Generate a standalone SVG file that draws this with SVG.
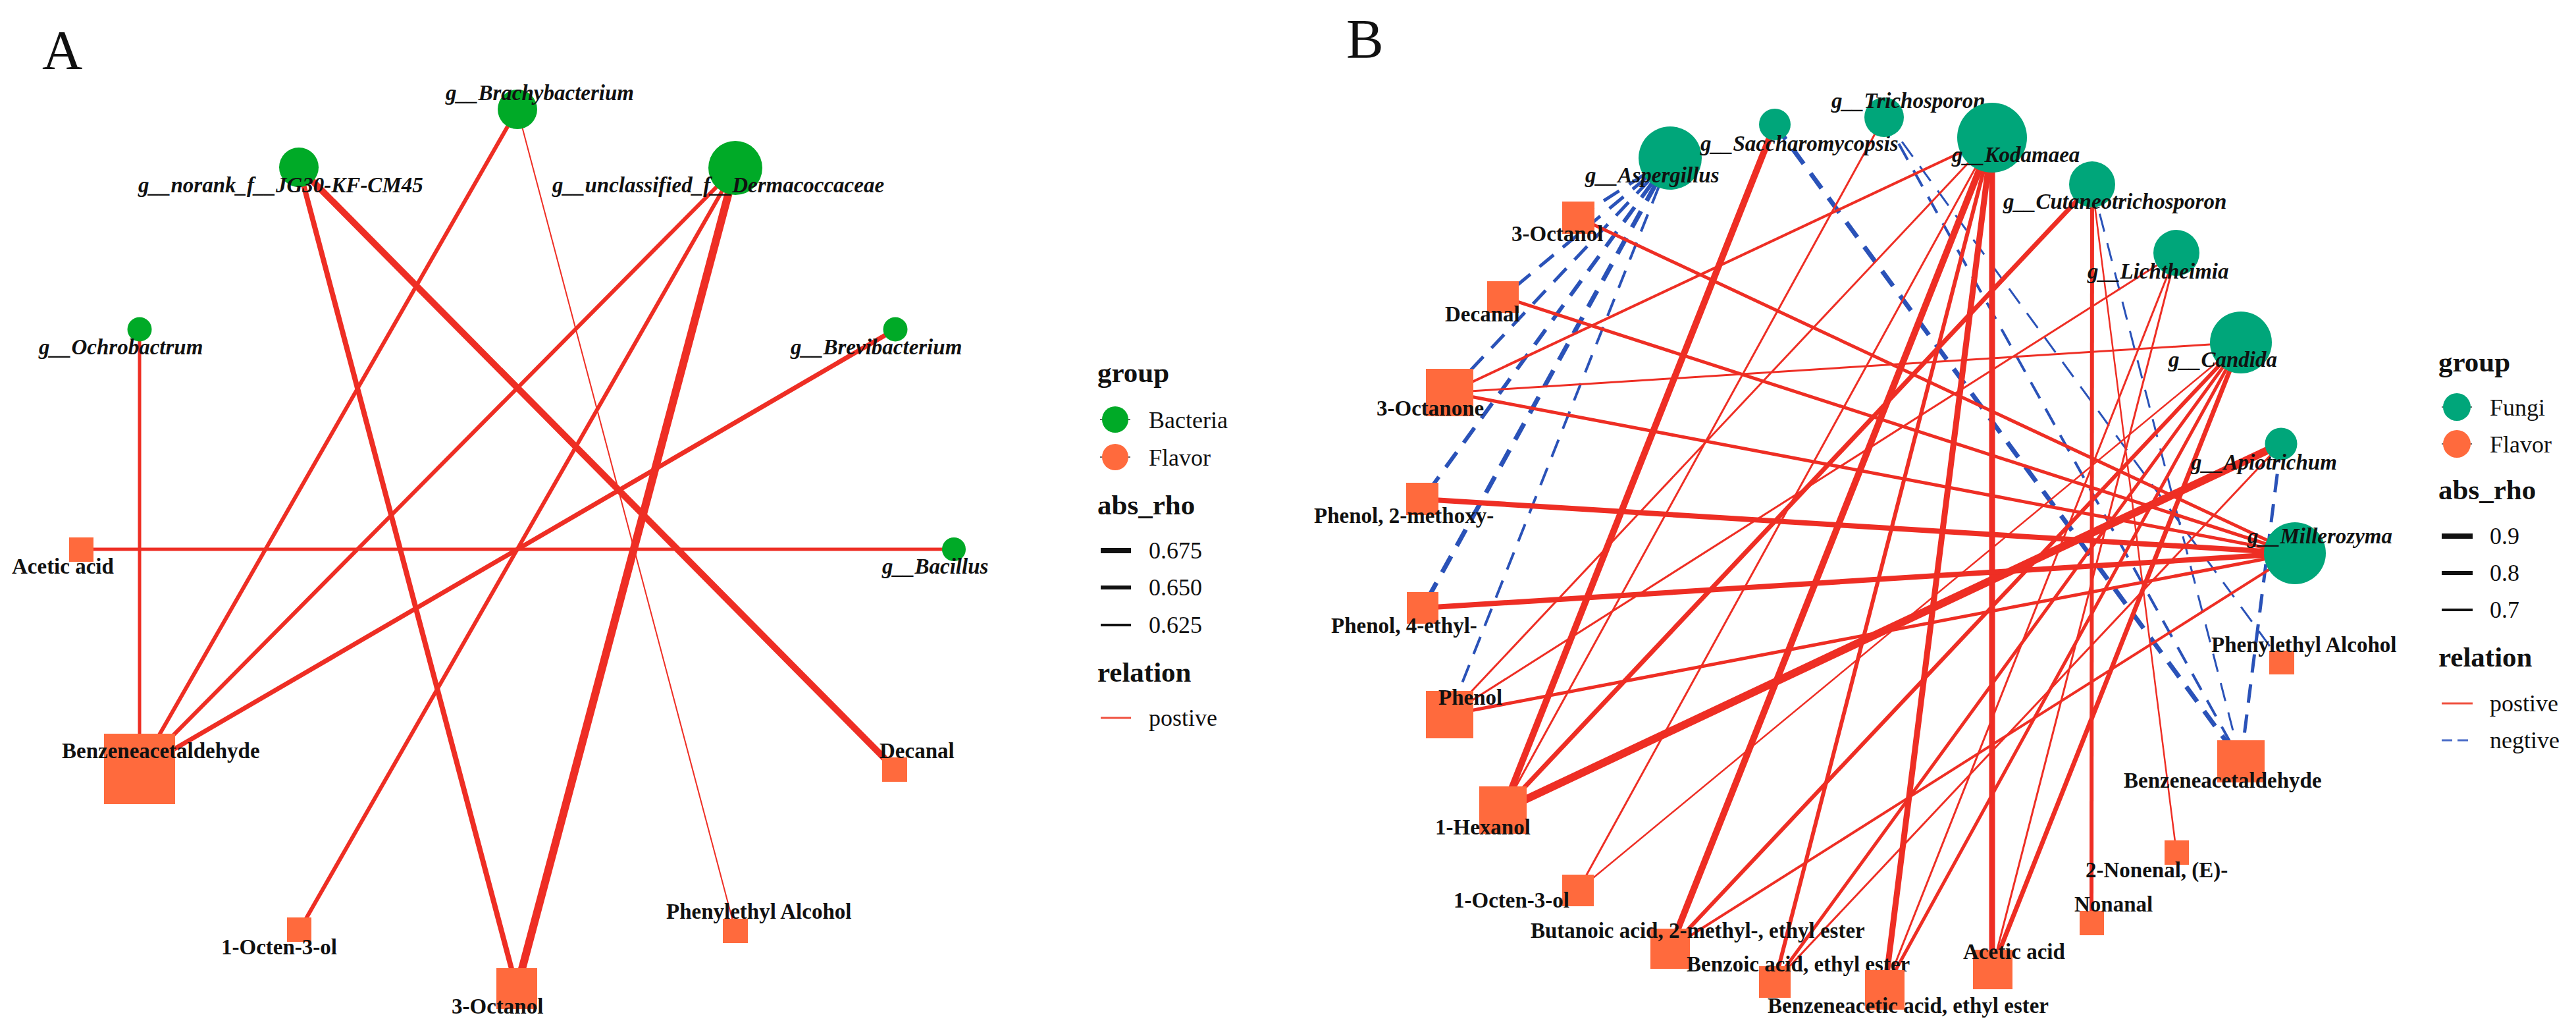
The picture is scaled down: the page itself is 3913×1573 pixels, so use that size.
<svg xmlns="http://www.w3.org/2000/svg" width="3913" height="1573" viewBox="0 0 3913 1573">
<style>
text{font-family:"Liberation Serif","Times New Roman",serif;fill:#111}
.gl{font-size:33px;font-weight:bold;font-style:italic}
.fl{font-size:33px;font-weight:bold}
.pl{font-size:85px}
.lt{font-size:43px;font-weight:bold}
.lx{font-size:36px}
.bac{fill:#00AA27}
.fun{fill:#00A67A}
.fla{fill:#FF6A3D}
.pos{stroke:#EE2E24;fill:none}
.neg{stroke:#2A52B8;fill:none;stroke-dasharray:28 18}
.key{stroke:#111}
.stub{stroke:#333;stroke-width:1.5}
</style>
<rect width="3913" height="1573" fill="#fff"/>
<text class="pl" x="64" y="105">A</text>
<text class="pl" x="2045" y="88">B</text>
<g id="connectors">
<!-- Panel A -->
<line class="pos" x1="212" y1="500" x2="212" y2="1168" stroke-width="5"/>
<line class="pos" x1="123" y1="834" x2="1449" y2="834" stroke-width="5"/>
<line class="pos" x1="786" y1="166" x2="212" y2="1168" stroke-width="6"/>
<line class="pos" x1="786" y1="166" x2="1117" y2="1413" stroke-width="2"/>
<line class="pos" x1="454" y1="254" x2="785" y2="1501" stroke-width="8"/>
<line class="pos" x1="454" y1="254" x2="1360" y2="1168" stroke-width="10"/>
<line class="pos" x1="1117" y1="255" x2="212" y2="1168" stroke-width="6"/>
<line class="pos" x1="1117" y1="255" x2="455" y2="1412" stroke-width="6"/>
<line class="pos" x1="1117" y1="255" x2="785" y2="1501" stroke-width="12"/>
<line class="pos" x1="1360" y1="500" x2="212" y2="1168" stroke-width="7"/>
<!-- Panel B negative -->
<line class="neg" x1="2537" y1="240" x2="2397" y2="330" stroke-width="5"/>
<line class="neg" x1="2537" y1="240" x2="2283" y2="451" stroke-width="5"/>
<line class="neg" x1="2537" y1="240" x2="2202" y2="596" stroke-width="5"/>
<line class="neg" x1="2537" y1="240" x2="2161" y2="758" stroke-width="6"/>
<line class="neg" x1="2537" y1="240" x2="2161" y2="923" stroke-width="7"/>
<line class="neg" x1="2537" y1="240" x2="2202" y2="1085" stroke-width="4"/>
<line class="neg" x1="2696" y1="189" x2="3404" y2="1156" stroke-width="7" stroke-dasharray="36 20"/>
<line class="neg" x1="2862" y1="178" x2="3404" y2="1156" stroke-width="4"/>
<line class="neg" x1="2862" y1="178" x2="3466" y2="1006" stroke-width="3"/>
<line class="neg" x1="3178" y1="280" x2="3404" y2="1156" stroke-width="3"/>
<line class="neg" x1="3465" y1="674" x2="3404" y2="1156" stroke-width="5"/>
<!-- Panel B positive -->
<line class="pos" x1="2696" y1="189" x2="2283" y2="1230" stroke-width="10"/>
<line class="pos" x1="3465" y1="674" x2="2283" y2="1230" stroke-width="12"/>
<line class="pos" x1="3178" y1="280" x2="2283" y2="1230" stroke-width="7"/>
<line class="pos" x1="2862" y1="178" x2="2283" y2="1230" stroke-width="3"/>
<line class="pos" x1="3026" y1="209" x2="2202" y2="596" stroke-width="4"/>
<line class="pos" x1="3026" y1="209" x2="2202" y2="1085" stroke-width="3"/>
<line class="pos" x1="3026" y1="209" x2="2397" y2="1352" stroke-width="3"/>
<line class="pos" x1="3026" y1="209" x2="2537" y2="1440" stroke-width="10"/>
<line class="pos" x1="3026" y1="209" x2="2696" y2="1491" stroke-width="6"/>
<line class="pos" x1="3026" y1="209" x2="2863" y2="1503" stroke-width="9"/>
<line class="pos" x1="3026" y1="209" x2="3026" y2="1472" stroke-width="9"/>
<line class="pos" x1="3178" y1="280" x2="3177" y2="1401" stroke-width="6"/>
<line class="pos" x1="3178" y1="280" x2="3306" y2="1294" stroke-width="2.5"/>
<line class="pos" x1="3306" y1="384" x2="2202" y2="1085" stroke-width="3"/>
<line class="pos" x1="3306" y1="384" x2="3026" y2="1472" stroke-width="3"/>
<line class="pos" x1="3306" y1="384" x2="2863" y2="1503" stroke-width="3"/>
<line class="pos" x1="3404" y1="520" x2="2202" y2="596" stroke-width="3"/>
<line class="pos" x1="3404" y1="520" x2="2397" y2="1352" stroke-width="2.5"/>
<line class="pos" x1="3404" y1="520" x2="2537" y2="1440" stroke-width="6"/>
<line class="pos" x1="3404" y1="520" x2="2696" y2="1491" stroke-width="5"/>
<line class="pos" x1="3404" y1="520" x2="2863" y2="1503" stroke-width="5"/>
<line class="pos" x1="3404" y1="520" x2="3026" y2="1472" stroke-width="7"/>
<line class="pos" x1="3465" y1="674" x2="2696" y2="1491" stroke-width="3"/>
<line class="pos" x1="3486" y1="840" x2="2397" y2="330" stroke-width="5"/>
<line class="pos" x1="3486" y1="840" x2="2283" y2="451" stroke-width="5"/>
<line class="pos" x1="3486" y1="840" x2="2202" y2="596" stroke-width="5"/>
<line class="pos" x1="3486" y1="840" x2="2161" y2="758" stroke-width="8"/>
<line class="pos" x1="3486" y1="840" x2="2161" y2="923" stroke-width="8"/>
<line class="pos" x1="3486" y1="840" x2="2202" y2="1085" stroke-width="5"/>
<line class="pos" x1="3486" y1="840" x2="2537" y2="1440" stroke-width="4"/>
</g>
<!-- Panel A nodes -->
<g id="a-brachybacterium"><circle class="bac" cx="786" cy="166" r="30"/><text class="gl" x="677" y="152">g__Brachybacterium</text></g>
<g id="a-jg30"><circle class="bac" cx="454" cy="254" r="30"/><text class="gl" x="210" y="292">g__norank_f__JG30-KF-CM45</text></g>
<g id="a-dermacoccaceae"><circle class="bac" cx="1117" cy="255" r="41"/><text class="gl" x="839" y="292">g__unclassified_f__Dermacoccaceae</text></g>
<g id="a-ochrobactrum"><circle class="bac" cx="212" cy="500" r="18.5"/><text class="gl" x="59" y="538">g__Ochrobactrum</text></g>
<g id="a-brevibacterium"><circle class="bac" cx="1360" cy="500" r="18.5"/><text class="gl" x="1201" y="538">g__Brevibacterium</text></g>
<g id="a-bacillus"><circle class="bac" cx="1449" cy="834" r="18"/><text class="gl" x="1340" y="871">g__Bacillus</text></g>
<g id="a-acetic"><rect class="fla" x="105" y="816" width="37" height="37"/><text class="fl" x="18" y="871">Acetic acid</text></g>
<g id="a-benzeneacetaldehyde"><rect class="fla" x="158" y="1114" width="108" height="107"/><text class="fl" x="94" y="1151">Benzeneacetaldehyde</text></g>
<g id="a-octen"><rect class="fla" x="436" y="1393" width="37" height="37"/><text class="fl" x="336" y="1449">1-Octen-3-ol</text></g>
<g id="a-octanol"><rect class="fla" x="754" y="1470" width="62" height="62"/><text class="fl" x="686" y="1539">3-Octanol</text></g>
<g id="a-decanal"><rect class="fla" x="1340" y="1150" width="38" height="37"/><text class="fl" x="1336" y="1151">Decanal</text></g>
<g id="a-phenylethyl"><rect class="fla" x="1098" y="1395" width="38" height="37"/><text class="fl" x="1012" y="1395">Phenylethyl Alcohol</text></g>
<!-- Panel A legend -->
<g id="a-legend">
<text class="lt" x="1667" y="580">group</text>
<line class="stub" x1="1671" y1="637" x2="1717" y2="637"/><circle class="bac" cx="1694" cy="637" r="20"/>
<text class="lx" x="1745" y="650">Bacteria</text>
<line class="stub" x1="1671" y1="694" x2="1717" y2="694"/><circle class="fla" cx="1694" cy="694" r="20"/>
<text class="lx" x="1745" y="707">Flavor</text>
<text class="lt" x="1667" y="781">abs_rho</text>
<line class="key" x1="1672" y1="836" x2="1718" y2="836" stroke-width="8"/><text class="lx" x="1745" y="848">0.675</text>
<line class="key" x1="1672" y1="892" x2="1718" y2="892" stroke-width="6"/><text class="lx" x="1745" y="904">0.650</text>
<line class="key" x1="1672" y1="949" x2="1718" y2="949" stroke-width="4"/><text class="lx" x="1745" y="961">0.625</text>
<text class="lt" x="1667" y="1035">relation</text>
<line x1="1672" y1="1090" x2="1718" y2="1090" stroke="#F0503F" stroke-width="3"/><text class="lx" x="1745" y="1102">postive</text>
</g>
<!-- Panel B nodes -->
<g id="b-aspergillus"><circle class="fun" cx="2537" cy="240" r="48"/><text class="gl" x="2408" y="277">g__Aspergillus</text></g>
<g id="b-saccharomycopsis"><circle class="fun" cx="2696" cy="189" r="24"/><text class="gl" x="2583" y="229">g__Saccharomycopsis</text></g>
<g id="b-trichosporon"><circle class="fun" cx="2862" cy="178" r="30"/><text class="gl" x="2782" y="164">g__Trichosporon</text></g>
<g id="b-kodamaea"><circle class="fun" cx="3026" cy="209" r="53"/><text class="gl" x="2965" y="246">g__Kodamaea</text></g>
<g id="b-cutaneotrichosporon"><circle class="fun" cx="3178" cy="280" r="35"/><text class="gl" x="3043" y="317">g__Cutaneotrichosporon</text></g>
<g id="b-lichtheimia"><circle class="fun" cx="3306" cy="384" r="35"/><text class="gl" x="3171" y="423">g__Lichtheimia</text></g>
<g id="b-candida"><circle class="fun" cx="3404" cy="520" r="47"/><text class="gl" x="3294" y="557">g__Candida</text></g>
<g id="b-apiotrichum"><circle class="fun" cx="3465" cy="674" r="24.5"/><text class="gl" x="3328" y="713">g__Apiotrichum</text></g>
<g id="b-millerozyma"><circle class="fun" cx="3486" cy="840" r="47"/><text class="gl" x="3414" y="825">g__Millerozyma</text></g>
<g id="b-octanol"><rect class="fla" x="2373" y="306" width="49" height="49"/><text class="fl" x="2296" y="366">3-Octanol</text></g>
<g id="b-decanal"><rect class="fla" x="2259" y="427" width="48" height="48"/><text class="fl" x="2195" y="488">Decanal</text></g>
<g id="b-octanone"><rect class="fla" x="2166" y="560" width="72" height="72"/><text class="fl" x="2091" y="631">3-Octanone</text></g>
<g id="b-methoxyphenol"><rect class="fla" x="2136" y="733" width="49" height="49"/><text class="fl" x="1996" y="794">Phenol, 2-methoxy-</text></g>
<g id="b-ethylphenol"><rect class="fla" x="2137" y="899" width="48" height="48"/><text class="fl" x="2022" y="961">Phenol, 4-ethyl-</text></g>
<g id="b-phenol"><rect class="fla" x="2166" y="1049" width="72" height="72"/><text class="fl" x="2185" y="1070">Phenol</text></g>
<g id="b-hexanol"><rect class="fla" x="2247" y="1194" width="72" height="72"/><text class="fl" x="2180" y="1267">1-Hexanol</text></g>
<g id="b-octenol"><rect class="fla" x="2373" y="1328" width="48" height="48"/><text class="fl" x="2208" y="1378">1-Octen-3-ol</text></g>
<g id="b-butanoic"><rect class="fla" x="2507" y="1410" width="60" height="61"/><text class="fl" x="2325" y="1424">Butanoic acid, 2-methyl-, ethyl ester</text></g>
<g id="b-benzoic"><rect class="fla" x="2672" y="1467" width="48" height="48"/><text class="fl" x="2562" y="1475">Benzoic acid, ethyl ester</text></g>
<g id="b-benzeneacetic"><rect class="fla" x="2833" y="1473" width="60" height="60"/><text class="fl" x="2685" y="1538">Benzeneacetic acid, ethyl ester</text></g>
<g id="b-acetic"><rect class="fla" x="2997" y="1442" width="60" height="60"/><text class="fl" x="2982" y="1456">Acetic acid</text></g>
<g id="b-nonanal"><rect class="fla" x="3159" y="1383" width="37" height="37"/><text class="fl" x="3151" y="1384">Nonanal</text></g>
<g id="b-nonenal"><rect class="fla" x="3288" y="1276" width="37" height="37"/><text class="fl" x="3168" y="1332">2-Nonenal, (E)-</text></g>
<g id="b-benzeneacetaldehyde"><rect class="fla" x="3368" y="1124" width="72" height="64"/><text class="fl" x="3226" y="1196">Benzeneacetaldehyde</text></g>
<g id="b-phenylethyl"><rect class="fla" x="3447" y="988" width="38" height="36"/><text class="fl" x="3359" y="990">Phenylethyl Alcohol</text></g>
<!-- Panel B legend -->
<g id="b-legend">
<text class="lt" x="3704" y="564">group</text>
<line class="stub" x1="3709" y1="618" x2="3755" y2="618"/><circle class="fun" cx="3732" cy="618" r="21"/>
<text class="lx" x="3782" y="631">Fungi</text>
<line class="stub" x1="3709" y1="674" x2="3755" y2="674"/><circle class="fla" cx="3732" cy="674" r="21"/>
<text class="lx" x="3782" y="687">Flavor</text>
<text class="lt" x="3704" y="758">abs_rho</text>
<line class="key" x1="3709" y1="814" x2="3756" y2="814" stroke-width="8"/><text class="lx" x="3782" y="826">0.9</text>
<line class="key" x1="3709" y1="870" x2="3756" y2="870" stroke-width="6"/><text class="lx" x="3782" y="882">0.8</text>
<line class="key" x1="3709" y1="926" x2="3756" y2="926" stroke-width="4"/><text class="lx" x="3782" y="938">0.7</text>
<text class="lt" x="3704" y="1012">relation</text>
<line x1="3709" y1="1068" x2="3756" y2="1068" stroke="#F0503F" stroke-width="3"/><text class="lx" x="3782" y="1080">postive</text>
<line x1="3709" y1="1124" x2="3756" y2="1124" stroke="#4A6CC8" stroke-width="3" stroke-dasharray="16 8"/><text class="lx" x="3782" y="1136">negtive</text>
</g>
</svg>
